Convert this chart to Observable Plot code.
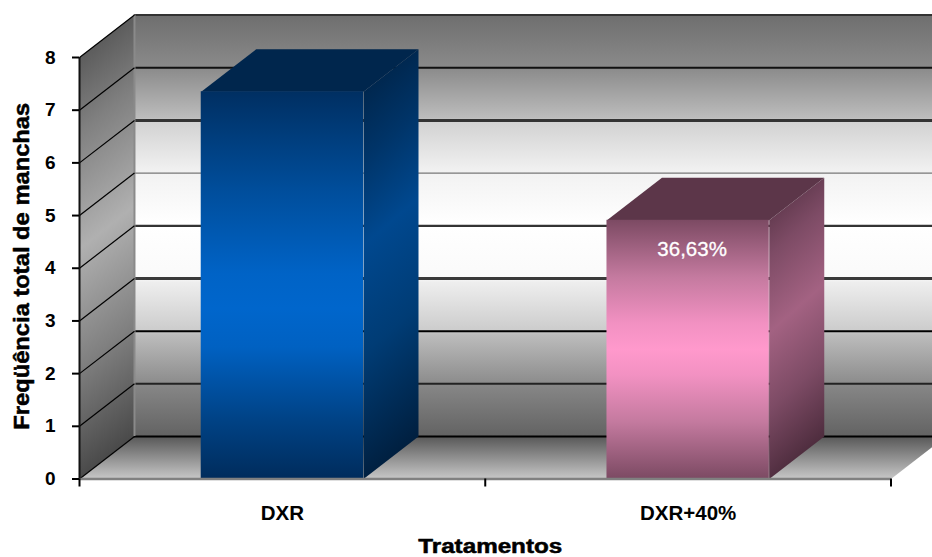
<!DOCTYPE html>
<html>
<head>
<meta charset="utf-8">
<script src="https://cdn.jsdelivr.net/npm/d3@7"></script>
<script src="https://cdn.jsdelivr.net/npm/@observablehq/plot@0.6"></script>
<style>
html,body{margin:0;padding:0;background:#fff}
</style>
</head>
<body>
<div id="chart"></div>
<script>
const categories = ["DXR", "DXR+40%"];
const values = [7.35, 4.91];
const yTicks = [0, 1, 2, 3, 4, 5, 6, 7, 8];
const xEdges = [0, 1, 2];
const barLabel = "36,63%";
const yTitle = "Freqüência total de manchas";
const xTitle = "Tratamentos";

const depthX = 0.1355, depthY = 0.806, barHalf = 0.2;
const gridStyle = [
  {w: 2, c: "#000"}, {w: 2, c: "#222"}, {w: 2, c: "#000"}, {w: 3, c: "#3a3a3a"},
  {w: 2.2, c: "#333"}, {w: 1.2, c: "#777"}, {w: 3, c: "#333"}, {w: 2, c: "#111"},
  {w: 2, c: "#333"}
];

function grad(id, stops, x2 = 0, y2 = 1) {
  return `<linearGradient id="${id}" x1="0" y1="0" x2="${x2}" y2="${y2}">` +
    stops.map(([o, c]) => `<stop offset="${o}" stop-color="${c}"/>`).join("") + `</linearGradient>`;
}
const defs = () => d3.create("svg:defs").html(
  grad("wall", [[0,"#6e6e6e"],[0.125,"#8a8a8a"],[0.245,"#bcbcbc"],[0.255,"#d2d2d2"],[0.375,"#f2f2f2"],[0.5,"#ffffff"],
    [0.625,"#fafafa"],[0.635,"#eeeeee"],[0.75,"#cccccc"],[0.76,"#bcbcbc"],[0.87,"#8e8e8e"],[0.88,"#868686"],[1,"#636363"]]) +
  grad("side", [[0,"#484848"],[0.25,"#808080"],[0.5,"#b0b0b0"],[0.75,"#808080"],[1,"#484848"]], 0.0927, 1) +
  grad("floor", [[0,"#585858"],[0.95,"#c2c2c2"],[1,"#c2c2c2"]]) +
  grad("front0", [[0,"#002f62"],[0.25,"#004d9a"],[0.47,"#0063c6"],[0.56,"#0066cc"],[0.66,"#0061c2"],[0.85,"#004285"],[1,"#002c5c"]]) +
  grad("side0", [[0,"#001f3f"],[0.25,"#003468"],[0.45,"#00488f"],[0.7,"#003c75"],[1,"#001f3f"]], 0.11, 1) +
  grad("front1", [[0,"#7c4a63"],[0.22,"#c47a9f"],[0.4,"#f291c2"],[0.5,"#ff99cc"],[0.6,"#f291c2"],[0.78,"#c47a9f"],[1,"#7c4a63"]]) +
  grad("side1", [[0,"#4d2c3d"],[0.25,"#7d4b65"],[0.5,"#a36282"],[0.75,"#7d4b65"],[1,"#4d2c3d"]], 0.16, 1)
).node();

const poly = (pts, fill) => Plot.line(pts, {x: "x", y: "y", fill, stroke: "none"});

const sideWall = [
  {x: 0, y: 0}, {x: depthX, y: depthY},
  {x: depthX, y: d3.max(yTicks) + depthY}, {x: 0, y: d3.max(yTicks)}
];
const floor = [
  {x: 0, y: 0}, {x: depthX, y: depthY},
  {x: d3.max(xEdges) + depthX, y: depthY}, {x: d3.max(xEdges), y: 0}
];

const barMarks = categories.flatMap((c, i) => {
  const cx = i + 0.5, l = cx - barHalf, r = cx + barHalf, v = values[i];
  return [
    poly([{x: r, y: 0}, {x: r + depthX, y: depthY}, {x: r + depthX, y: v + depthY}, {x: r, y: v}], `url(#side${i})`),
    poly([{x: l, y: v}, {x: l + depthX, y: v + depthY}, {x: r + depthX, y: v + depthY}, {x: r, y: v}],
      i === 0 ? "#00264d" : "#5c3649"),
    Plot.rect([v], {x1: l, x2: r, y1: 0, y2: d => d, fill: `url(#front${i})`})
  ];
});

const chart = Plot.plot({
  width: 932,
  height: 557,
  marginLeft: 79,
  marginRight: 41.5,
  marginTop: 57,
  marginBottom: 78.5,
  style: {fontFamily: "'Liberation Sans', Arial, sans-serif", background: "#fff", color: "#000", overflow: "hidden"},
  x: {domain: [0, 2]},
  y: {domain: [0, 8]},
  marks: [
    defs,
    // walls and floor
    Plot.rect([0], {x1: depthX, x2: 2 + depthX, y1: depthY, y2: 8 + depthY, fill: "url(#wall)"}),
    poly(sideWall, "url(#side)"),
    poly(floor, "url(#floor)"),
    // back gridlines
    Plot.ruleY(yTicks, {x1: depthX, x2: 2 + depthX, y: d => d + depthY,
      stroke: (d, i) => gridStyle[i].c, strokeWidth: (d, i) => gridStyle[i].w}),
    Plot.ruleX([depthX], {y1: depthY, y2: 8 + depthY, stroke: "#8a8a8a", strokeWidth: 2}),
    // side wall gridlines
    Plot.link(yTicks, {x1: 0, x2: depthX, y1: d => d, y2: d => d + depthY, stroke: "#000", strokeWidth: 1.2}),
    ...barMarks,
    Plot.ruleY([0], {x1: 0, x2: 2, stroke: "#808080", strokeWidth: 2.5}),
    Plot.text([barLabel], {x: 1.5, y: values[1] - 0.56, dx: 4, text: d => d, fill: "#fff",
      fontSize: 20.5, fontWeight: 500, stroke: "#fff", strokeWidth: 0.3}),
    // axes
    Plot.ruleX([0], {y1: 0, y2: 8, stroke: "#111", strokeWidth: 2}),
    Plot.axisY({ticks: yTicks, tickSize: 7, tickPadding: 17, strokeWidth: 2, stroke: "#000", label: null,
      fontSize: 19, fontWeight: 700, fill: "#000", tickFormat: d3.format("d")}),
    Plot.axisX({ticks: xEdges, tickSize: 8, tickPadding: 0, strokeWidth: 2, stroke: "#000", label: null, tickFormat: () => ""}),
    Plot.axisX({ticks: [0.5, 1.5], tickSize: 0, tickPadding: 26, label: null,
      fontSize: 20.5, fontWeight: 700, fill: "#000", tickFormat: d => categories[Math.floor(d)]}),
    Plot.text([yTitle], {frameAnchor: "left", textAnchor: "middle", dx: -58, dy: -2, rotate: -90, text: d => d, fontSize: 22, fontWeight: 700, fill: "#000", stroke: "#000", strokeWidth: 0.5, className: "ytitle"}),
    Plot.text([xTitle], {frameAnchor: "bottom", dx: 5, dy: 68, lineAnchor: "middle", text: d => d, fontSize: 20, fontWeight: 700, fill: "#000", stroke: "#000", strokeWidth: 0.5, className: "xtitle"})
  ]
});

document.getElementById("chart").append(chart);
const fit = (sel, len) => chart.querySelectorAll(sel + " text").forEach(t => {
  t.setAttribute("textLength", len);
  t.setAttribute("lengthAdjust", "spacingAndGlyphs");
});
fit(".ytitle", 327);
fit(".xtitle", 144);
</script>
</body>
</html>
